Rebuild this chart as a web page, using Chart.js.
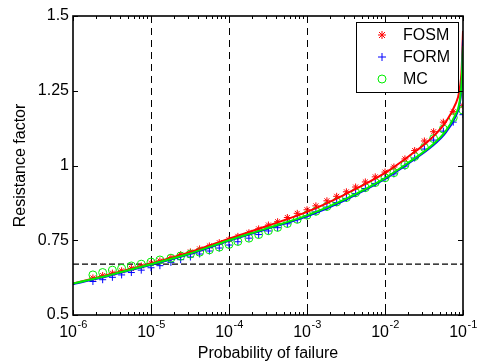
<!DOCTYPE html>
<html>
<head>
<meta charset="utf-8">
<script src="https://cdn.jsdelivr.net/npm/chart.js@4"></script>
<style>
  html, body { margin: 0; padding: 0; background: #fff; }
  canvas { display: block; }
</style>
</head>
<body>
<canvas id="chart" width="480" height="364"></canvas>
<script>
// probability of failure where the discrete results were computed
const markerP = [1.8e-6, 2.4e-6, 3.2e-6, 4.2e-6, 5.6e-6, 7.5e-6, 1e-5, 1.3e-5, 1.8e-5, 2.4e-5,
  3.2e-5, 4.2e-5, 5.6e-5, 7.5e-5, 1e-4, 1.3e-4, 1.8e-4, 2.4e-4, 3.2e-4, 4.2e-4,
  5.6e-4, 7.5e-4, 1e-3, 1.3e-3, 1.8e-3, 2.4e-3, 3.2e-3, 4.2e-3, 5.6e-3, 7.5e-3,
  1e-2, 1.3e-2, 1.8e-2, 2.4e-2, 3.2e-2, 4.2e-2, 5.6e-2, 7.5e-2, 1e-1];
const fosmPts = [0.624, 0.632, 0.640, 0.648, 0.656, 0.664, 0.673, 0.681, 0.692, 0.702,
  0.711, 0.721, 0.731, 0.742, 0.752, 0.763, 0.775, 0.788, 0.801, 0.812,
  0.826, 0.840, 0.852, 0.865, 0.882, 0.897, 0.912, 0.928, 0.945, 0.962,
  0.978, 0.995, 1.022, 1.050, 1.082, 1.113, 1.145, 1.180, 1.200];
const formPts = [0.612, 0.618, 0.626, 0.634, 0.642, 0.650, 0.658, 0.665, 0.676, 0.685,
  0.694, 0.704, 0.714, 0.724, 0.734, 0.745, 0.757, 0.769, 0.781, 0.792,
  0.805, 0.819, 0.832, 0.845, 0.861, 0.876, 0.890, 0.906, 0.923, 0.940,
  0.956, 0.972, 0.998, 1.025, 1.055, 1.085, 1.115, 1.145, 1.170];
const mcPts = [0.634, 0.642, 0.650, 0.656, 0.664, 0.670, 0.677, 0.684, 0.690, 0.697,
  0.704, 0.710, 0.718, 0.727, 0.736, 0.746, 0.757, 0.769, 0.782, 0.793,
  0.806, 0.820, 0.834, 0.847, 0.863, 0.878, 0.893, 0.909, 0.926, 0.943,
  0.959, 0.976, 1.002, 1.030, 1.060, 1.090, 1.122, 1.160, 1.185];

// fitted curves
const curveP = [1e-6, 3e-6, 1e-5, 3e-5, 1e-4, 3e-4, 1e-3, 3e-3, 1e-2, 2e-2, 4e-2, 6e-2, 8e-2, 9e-2, 9.6e-2, 1e-1];
const fosmCurve = [0.605, 0.636, 0.672, 0.708, 0.755, 0.797, 0.845, 0.902, 0.975, 1.030, 1.093, 1.145, 1.205, 1.250, 1.32, 1.45];
const formCurve = [0.603, 0.632, 0.668, 0.702, 0.748, 0.787, 0.830, 0.883, 0.955, 1.007, 1.064, 1.110, 1.163, 1.203, 1.27, 1.42];
const mcCurve = [0.605, 0.634, 0.670, 0.704, 0.750, 0.789, 0.833, 0.886, 0.958, 1.010, 1.068, 1.115, 1.170, 1.210, 1.28, 1.40];

// target resistance factor (horizontal dashed line)
const targetP = [1e-6, 1e-1];
const targetPhi = [0.67, 0.67];

// axes
const xMajor = [1e-6, 1e-5, 1e-4, 1e-3, 1e-2, 1e-1];
const xExponents = ['-6', '-5', '-4', '-3', '-2', '-1'];
const xGridP = [1e-5, 1e-4, 1e-3, 1e-2];
const yTicks = [0.5, 0.75, 1, 1.25, 1.5];
const yLabels = ['0.5', '0.75', '1', '1.25', '1.5'];
const legendItems = [
  { label: 'FOSM', color: '#ff0000', style: 'star' },
  { label: 'FORM', color: '#0000ff', style: 'plus' },
  { label: 'MC', color: '#00ee00', style: 'circle' },
];

const xMinor = [];
for (let i = 0; i < xMajor.length - 1; i++) {
  for (let k = 2; k <= 9; k++) xMinor.push(k * xMajor[i]);
}

const FONT = '"Liberation Sans", Arial, Helvetica, sans-serif';
const pts = (xs, ys) => xs.map((x, i) => ({ x, y: ys[i] }));

function drawMarker(ctx, style, x, y, color) {
  ctx.save();
  ctx.strokeStyle = color;
  ctx.lineWidth = 1;
  ctx.beginPath();
  if (style === 'circle') {
    ctx.arc(x, y, 4, 0, Math.PI * 2);
  } else {
    ctx.moveTo(x - 4, y); ctx.lineTo(x + 4, y);
    ctx.moveTo(x, y - 4); ctx.lineTo(x, y + 4);
    if (style === 'star') {
      ctx.moveTo(x - 3, y - 3); ctx.lineTo(x + 3, y + 3);
      ctx.moveTo(x - 3, y + 3); ctx.lineTo(x + 3, y - 3);
    }
  }
  ctx.stroke();
  ctx.restore();
}

const matlabFrame = {
  id: 'matlabFrame',
  beforeDatasetsDraw(chart) {
    const { ctx, chartArea: a, scales: { x } } = chart;
    ctx.save();
    ctx.strokeStyle = '#000';
    ctx.lineWidth = 1;
    ctx.setLineDash([7, 5]);
    xGridP.forEach((p) => {
      const px = Math.round(x.getPixelForValue(p)) + 0.5;
      ctx.beginPath();
      ctx.moveTo(px, a.top);
      ctx.lineTo(px, a.bottom);
      ctx.stroke();
    });
    ctx.restore();
  },
  afterDatasetsDraw(chart) {
    const { ctx, chartArea: a, scales: { x, y } } = chart;
    ctx.save();
    ctx.strokeStyle = '#000';
    ctx.fillStyle = '#000';
    ctx.lineWidth = 1;

    // inward ticks
    ctx.beginPath();
    xMajor.forEach((p) => {
      const px = Math.round(x.getPixelForValue(p)) + 0.5;
      ctx.moveTo(px, a.bottom); ctx.lineTo(px, a.bottom - 5);
      ctx.moveTo(px, a.top); ctx.lineTo(px, a.top + 5);
    });
    xMinor.forEach((p) => {
      const px = Math.round(x.getPixelForValue(p)) + 0.5;
      ctx.moveTo(px, a.bottom); ctx.lineTo(px, a.bottom - 3);
      ctx.moveTo(px, a.top); ctx.lineTo(px, a.top + 3);
    });
    yTicks.forEach((v) => {
      const py = Math.round(y.getPixelForValue(v)) + 0.5;
      ctx.moveTo(a.left, py); ctx.lineTo(a.left + 5, py);
      ctx.moveTo(a.right, py); ctx.lineTo(a.right - 5, py);
    });
    ctx.stroke();

    // axes box
    ctx.lineWidth = 1.6;
    ctx.strokeRect(a.left, a.top, a.right - a.left, a.bottom - a.top);

    // y tick labels
    ctx.font = '16px ' + FONT;
    ctx.textAlign = 'right';
    ctx.textBaseline = 'middle';
    yTicks.forEach((v, i) => ctx.fillText(yLabels[i], a.left - 4, y.getPixelForValue(v)));

    // x tick labels: 10 with superscript exponent
    ctx.textAlign = 'left';
    ctx.textBaseline = 'alphabetic';
    xMajor.forEach((p, i) => {
      ctx.font = '16px ' + FONT;
      const wb = ctx.measureText('10').width;
      ctx.font = '11px ' + FONT;
      const we = ctx.measureText(xExponents[i]).width;
      const left = x.getPixelForValue(p) - (wb + we) / 2;
      ctx.font = '16px ' + FONT;
      ctx.fillText('10', left, a.bottom + 22);
      ctx.font = '11px ' + FONT;
      ctx.fillText(xExponents[i], left + wb + 0.5, a.bottom + 13);
    });

    // axis titles
    ctx.font = '16px ' + FONT;
    ctx.textAlign = 'center';
    ctx.fillText('Probability of failure', (a.left + a.right) / 2, a.bottom + 43);
    ctx.save();
    ctx.translate(25, (a.top + a.bottom) / 2);
    ctx.rotate(-Math.PI / 2);
    ctx.fillText('Resistance factor', 0, 0);
    ctx.restore();

    // legend box
    const lx = 356, ly = 22, lw = 102, lh = 70;
    ctx.fillStyle = '#fff';
    ctx.fillRect(lx, ly, lw, lh);
    ctx.lineWidth = 1;
    ctx.strokeStyle = '#000';
    ctx.strokeRect(lx + 0.5, ly + 0.5, lw, lh);
    ctx.fillStyle = '#000';
    ctx.textAlign = 'left';
    ctx.textBaseline = 'middle';
    legendItems.forEach((it, i) => {
      const cy = ly + 13 + i * 22;
      drawMarker(ctx, it.style, lx + 26, cy, it.color);
      ctx.fillText(it.label, lx + 47, cy + 1);
    });
    ctx.restore();
  },
};

const lineDs = (data, color, order) => ({
  data, showLine: true, borderColor: color, borderWidth: 2,
  pointRadius: 0, cubicInterpolationMode: 'monotone', order,
});
const markDs = (data, color, style, r, order) => ({
  data, showLine: false, pointStyle: style, pointRadius: r,
  pointBorderColor: color, pointBackgroundColor: 'rgba(0,0,0,0)',
  pointBorderWidth: 1, order,
});

new Chart(document.getElementById('chart'), {
  type: 'scatter',
  data: {
    datasets: [
      lineDs(pts(curveP, mcCurve), '#00ee00', 1),
      lineDs(pts(curveP, formCurve), '#0000ff', 2),
      lineDs(pts(curveP, fosmCurve), '#ff0000', 3),
      markDs(pts(markerP, mcPts), '#00ee00', 'circle', 4, 4),
      markDs(pts(markerP, formPts), '#0000ff', 'cross', 3.5, 5),
      markDs(pts(markerP, fosmPts), '#ff0000', 'star', 3.5, 6),
      {
        data: pts(targetP, targetPhi), showLine: true, borderColor: '#000',
        borderWidth: 1.3, borderDash: [6, 3], pointRadius: 0, order: 7,
      },
    ],
  },
  options: {
    responsive: false,
    animation: false,
    devicePixelRatio: 1,
    layout: { padding: { left: 73, right: 17, top: 16, bottom: 49 } },
    plugins: { legend: { display: false }, tooltip: { enabled: false } },
    scales: {
      x: { type: 'logarithmic', min: 1e-6, max: 1e-1, display: false },
      y: { type: 'linear', min: 0.5, max: 1.5, display: false },
    },
  },
  plugins: [matlabFrame],
});
</script>
</body>
</html>
